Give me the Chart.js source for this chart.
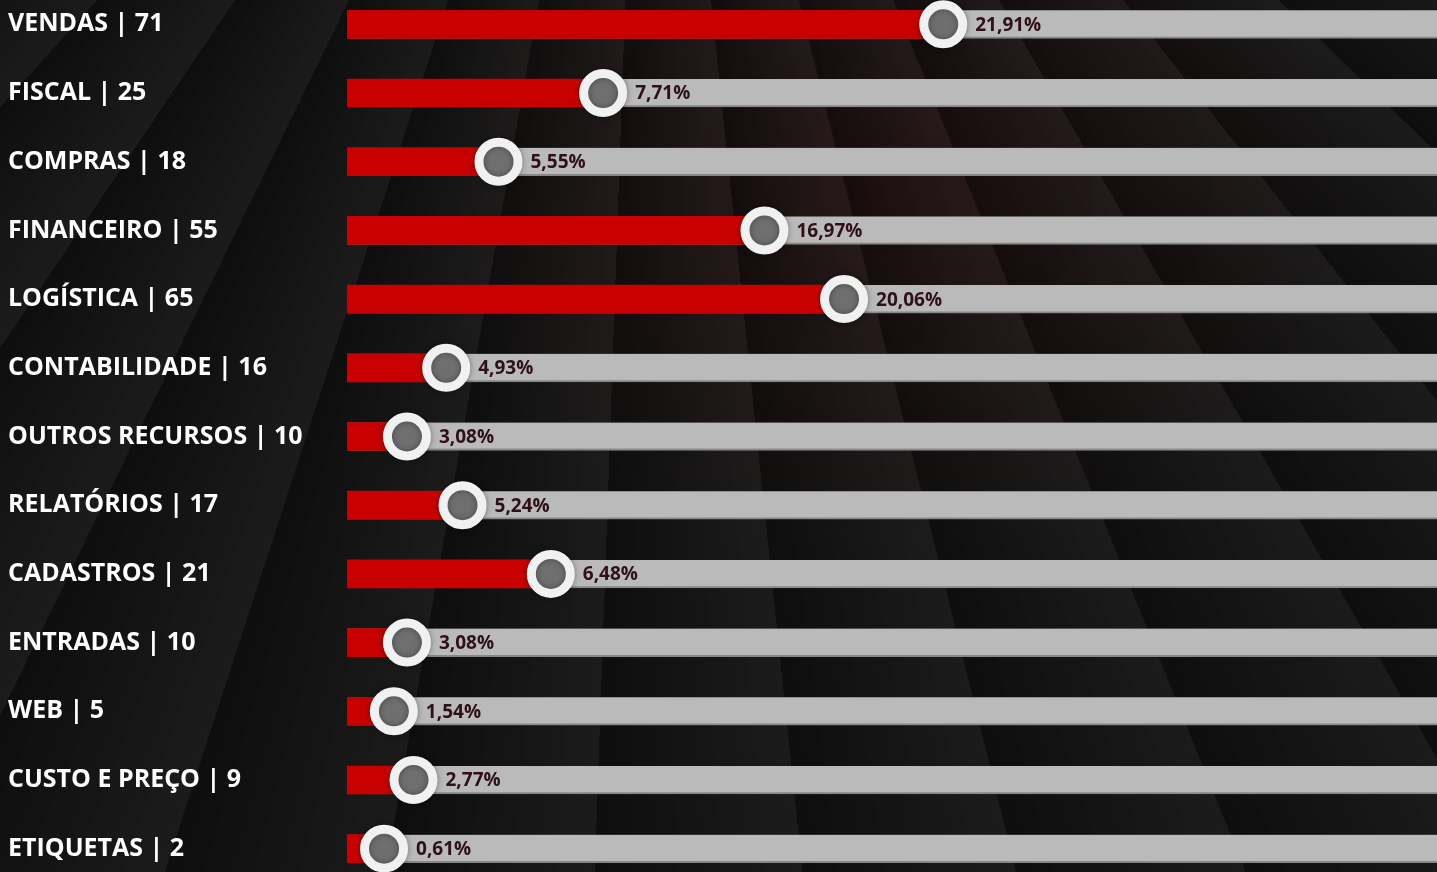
<!DOCTYPE html>
<html>
<head>
<meta charset="utf-8">
<script src="https://cdn.jsdelivr.net/npm/chart.js@4.4.1/dist/chart.umd.min.js"></script>
<style>
  html, body { margin: 0; padding: 0; overflow: hidden; }
  body {
    width: 1437px; height: 872px;
    background-color: #131313;
    background-image:
      repeating-conic-gradient(from 150deg at 45% -70%, rgba(255,255,255,0.035) 0deg, rgba(0,0,0,0.28) 8deg),
      radial-gradient(ellipse at 62% 22%, rgba(80,8,8,0.22), rgba(0,0,0,0) 40%);
  }
  #wrap { position: absolute; left: 0; top: -25px; width: 1437px; height: 923px; }
</style>
</head>
<body>
<div id="wrap"><canvas id="bar-chart"></canvas></div>
<script>
// categories and their counts (left labels)
const categories = ['VENDAS', 'FISCAL', 'COMPRAS', 'FINANCEIRO', 'LOGÍSTICA', 'CONTABILIDADE',
  'OUTROS RECURSOS', 'RELATÓRIOS', 'CADASTROS', 'ENTRADAS', 'WEB', 'CUSTO E PREÇO', 'ETIQUETAS']
const counts = [71, 25, 18, 55, 65, 16, 10, 17, 21, 10, 5, 9, 2]
// share shown next to each dot
const percents = [21.91, 7.71, 5.55, 16.97, 20.06, 4.93, 3.08, 5.24, 6.48, 3.08, 1.54, 2.77, 0.61]
// how far the red fill runs along each grey track (% of track)
const barFill = [54.7, 23.5, 13.9, 38.3, 45.6, 9.1, 5.5, 10.6, 18.7, 5.5, 4.3, 6.1, 3.4]
const trackMax = 100

const labels = categories.map((c, i) => c + ' | ' + counts[i])
const fmtPct = v => v.toFixed(2).replace('.', ',') + '%'

// writes the % text to the right of each dot, soft shadow under the dots
const pctLabels = {
  id: 'pctLabels',
  beforeDatasetDraw(chart, args) {
    if (args.index === 2) {
      chart.ctx.save()
      chart.ctx.shadowColor = 'rgba(0,0,0,0.35)'
      chart.ctx.shadowBlur = 6
    }
  },
  afterDatasetDraw(chart, args) {
    if (args.index === 2) chart.ctx.restore()
  },
  afterDatasetsDraw(chart) {
    const meta = chart.getDatasetMeta(2)
    const ctx = chart.ctx
    ctx.save()
    ctx.font = 'bold 19px "Open Sans", sans-serif'
    ctx.fillStyle = '#2e1117'
    ctx.textAlign = 'left'
    ctx.textBaseline = 'middle'
    meta.data.forEach((pt, i) => {
      ctx.fillText(fmtPct(percents[i]), pt.x + 32, pt.y + 1)
    })
    ctx.restore()
  }
}

const chartCanvas = document.querySelector('#bar-chart')

const barChart = new Chart(chartCanvas, {
  type: 'bar',
  data: {
    labels: labels,
    datasets: [
      {
        // red fill
        data: barFill,
        backgroundColor: '#c80000',
        barThickness: 28,
        borderSkipped: false,
        order: 1
      },
      {
        // grey track
        data: categories.map(() => trackMax),
        backgroundColor: '#bababa',
        borderColor: '#878787',
        borderWidth: { top: 0, left: 0, right: 0, bottom: 2 },
        borderSkipped: false,
        barThickness: 28,
        order: 2
      },
      {
        // dots at the end of the fill
        type: 'line',
        indexAxis: 'y',
        data: barFill,
        showLine: false,
        pointRadius: 19.5,
        pointHoverRadius: 19.5,
        pointBorderWidth: 9,
        pointBackgroundColor: '#6f6f6f',
        pointBorderColor: '#f1f1f1',
        clip: false,
        order: 0
      }
    ]
  },
  options: {
    indexAxis: 'y',
    responsive: true,
    maintainAspectRatio: false,
    animation: false,
    layout: { autoPadding: false, padding: { left: 8, right: 0, top: 0, bottom: 0 } },
    plugins: {
      legend: { display: false },
      tooltip: { enabled: false }
    },
    scales: {
      x: {
        display: false,
        min: 0,
        max: trackMax
      },
      y: {
        stacked: true,
        grid: { display: false },
        border: { display: false },
        afterFit: s => { s.width = 339 },
        ticks: {
          crossAlign: 'far',
          color: '#ffffff',
          padding: 0,
          font: { family: '"Open Sans", sans-serif', size: 25, weight: 'bold' }
        }
      }
    }
  },
  plugins: [pctLabels]
})
</script>
</body>
</html>
